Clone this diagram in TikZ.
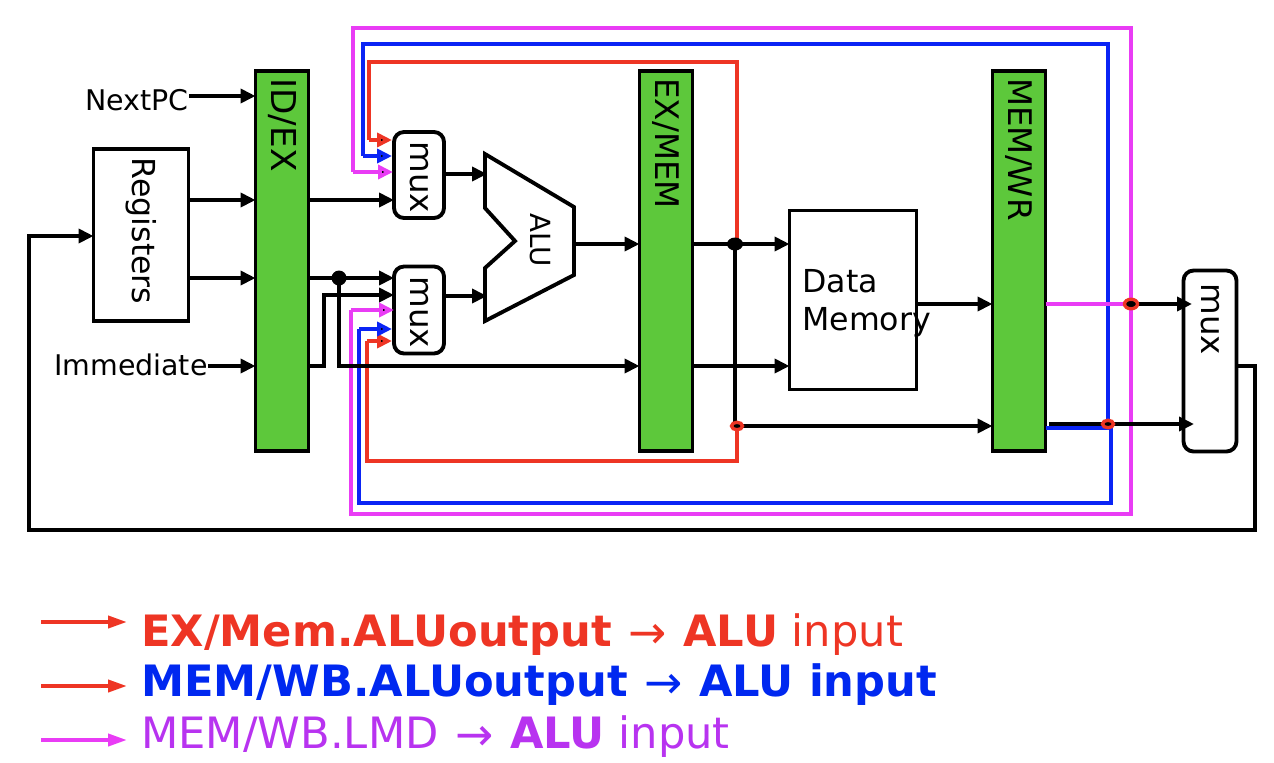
\documentclass[tikz,border=0pt]{standalone}
\usepackage{fontspec}
\setmainfont{DejaVu Sans}
\usetikzlibrary{arrows.meta,shapes.geometric}
\definecolor{reggreen}{HTML}{5DC83B}
\definecolor{fwdred}{HTML}{EE3524}
\definecolor{fwdblue}{HTML}{0A24F5}
\definecolor{fwdpink}{HTML}{E93CF5}
\definecolor{txtblue}{HTML}{0028F0}
\definecolor{txtpurple}{HTML}{B833F0}
\newcommand{\fwdarrow}{\kern1.7pt\raisebox{-1.5pt}{\mdseries\fontsize{26}{26}\selectfont →}\kern1.7pt}
\tikzset{
  wire/.style={line width=2.2pt,->},
  plainwire/.style={line width=2.2pt},
  redwire/.style={line width=2.2pt,draw=fwdred},
  bluewire/.style={line width=2.2pt,draw=fwdblue},
  pinkwire/.style={line width=2.2pt,draw=fwdpink},
  legendwire/.style={line width=2.2pt,-{Triangle[length=0.38cm,width=0.24cm]}},
  pipereg/.style={draw,line width=2.2pt,fill=reggreen,minimum width=1.06cm,minimum height=7.6cm,inner sep=0,outer sep=0},
  vlabel/.style={rotate=-90,anchor=west,inner sep=0,font=\fontsize{18.5}{22}\selectfont},
  muxbox/.style={draw,line width=2.2pt,rounded corners=0.2cm,fill=white,minimum width=1.0cm,inner sep=0,outer sep=0},
  plainbox/.style={draw,line width=2.2pt,inner sep=0,outer sep=0},
  sidelabel/.style={inner sep=0,font=\fontsize{16.2}{19}\selectfont},
  blackdot/.style={ellipse,fill=black,inner sep=0},
  reddot/.style={ellipse,draw=fwdred,fill=black,line width=1.9pt,minimum width=0.22cm,minimum height=0.15cm,inner sep=0},
  legendtxt/.style={anchor=base west,inner sep=0,font=\fontsize{24.6}{28}\selectfont}
}
\begin{document}
\begin{tikzpicture}[x=0.02cm,y=-0.02cm,>={Triangle[length=0.3cm,width=0.28cm]}]
  \useasboundingbox (0,0) rectangle (1274,762);

  % pipeline registers and boxes
  \node[pipereg] (idex) at (282,261) {};
  \node[pipereg] (exmem) at (666,261) {};
  \node[pipereg] (memwr) at (1019,261) {};
  \node[vlabel,font=\fontsize{19.5}{22}\selectfont] (idexl) at (282,78) {ID/EX};
  \node[vlabel] (exmeml) at (666,78) {EX/MEM};
  \node[vlabel] (memwrl) at (1019,78) {MEM/WR};

  \node[plainbox,minimum width=1.9cm,minimum height=3.44cm] (regs) at (141,235) {};
  \node[vlabel,anchor=center,font=\fontsize{18}{22}\selectfont] (regsl) at (141,231) {Registers};
  \node[muxbox,minimum height=1.72cm] (muxa) at (419,175) {};
  \node[vlabel] (muxal) at (419,141) {mux};
  \node[muxbox,minimum height=1.74cm] (muxb) at (419,310) {};
  \node[vlabel] (muxbl) at (419,276) {mux};
  \node[muxbox,minimum width=1.06cm,minimum height=3.62cm] (muxc) at (1210,361) {};
  \node[vlabel] (muxcl) at (1210,283) {mux};
  \node[plainbox,minimum width=2.54cm,minimum height=3.58cm] (dmem) at (853,300) {};
  \node[sidelabel,anchor=west,align=left,font=\fontsize{18}{21.6}\selectfont] (dmeml) at (802,303) {Data\\Memory};

  % ALU outline
  \draw[line width=2.2pt,line join=miter] (485,154) -- (574,207) -- (574,275) -- (485,321)
    -- (485,268) -- (515,241) -- (485,208) -- cycle;
  \node[vlabel,anchor=center,font=\fontsize{15.8}{18}\selectfont] (alul) at (540,240) {ALU};
  \coordinate (alua) at (487,174);
  \coordinate (alub) at (487,296);

  % plain inputs
  \node[sidelabel,anchor=east] (nextpc) at (189,100) {NextPC};
  \node[sidelabel,anchor=east] (immed) at (208,365) {Immediate};

  % junctions
  \coordinate (ja) at (339,278);
  \coordinate (jb) at (735,244);
  \coordinate (jbr) at (737,244);
  \coordinate (jc) at (737,426);
  \coordinate (jd) at (1108,424);
  \coordinate (je) at (1131,304);

  % forwarding wires
  \draw[redwire] (jbr) -- (737,62) -- (369,62) -- (369,140) edge[->] (392,140);
  \draw[redwire] (jc) -- (737,461) -- (367,461) -- (367,341) edge[->] (392,341);
  \draw[bluewire] (jd) -- (1108,44) -- (363,44) -- (363,156) edge[->] (392,156);
  \draw[bluewire] (memwr.east |- 0,428) -- (1111,428) -- (1111,503) -- (359,503) -- (359,329) edge[->] (392,329);
  \draw[pinkwire] (memwr.east |- je) -- (je);
  \draw[pinkwire] (je) -- (1131,28) -- (353,28) -- (353,172) edge[->] (393,172);
  \draw[pinkwire] (je) -- (1131,514) -- (351,514) -- (351,310) edge[->] (394,310);

  % black wires
  \draw[wire] (nextpc.east |- 0,96) -- (idex.west |- 0,96);
  \draw[wire] (regs.east |- 0,200) -- (idex.west |- 0,200);
  \draw[wire] (regs.east |- 0,278) -- (idex.west |- 0,278);
  \draw[wire] (immed.east |- 0,366) -- (idex.west |- 0,366);
  \draw[wire] (idex.east |- 0,200) -- (muxa.west |- 0,200);
  \draw[wire] (idex.east |- ja) -- (muxb.west |- ja);
  \draw[wire] (idex.east |- 0,366) -- (324,366) -- (324,295) -- (muxb.west |- 0,295);
  \draw[wire] (ja) -- (339,366) -- (exmem.west |- 0,366);
  \draw[wire] (muxa.east |- alua) -- (alua);
  \draw[wire] (muxb.east |- alub) -- (alub);
  \draw[wire] (574,244) -- (exmem.west |- 0,244);
  \draw[wire] (exmem.east |- jb) -- (dmem.west |- jb);
  \draw[wire] (exmem.east |- 0,366) -- (dmem.west |- 0,366);
  \draw[plainwire] (jb) -- (735,426);
  \draw[wire] (jc) -- (memwr.west |- jc);
  \draw[wire] (dmem.east |- 0,304) -- (memwr.west |- 0,304);
  \draw[wire] (je) -- (1192,304);
  \draw[wire] (1049,424) -- (1194,424);
  \draw[wire] (muxc.east |- 0,366) -- (1255,366) -- (1255,530) -- (29,530) -- (29,236) -- (regs.west |- 0,236);

  % dots on top of the wires
  \node[blackdot,minimum width=0.3cm,minimum height=0.3cm] (jadot) at (ja) {};
  \node[blackdot,minimum width=0.32cm,minimum height=0.26cm] (jbdot) at (jb) {};
  \node[reddot] (jcdot) at (jc) {};
  \node[reddot] (jddot) at (jd) {};
  \node[reddot,minimum width=0.26cm,minimum height=0.19cm] (jedot) at (je) {};

  % legend
  \coordinate (lga) at (41,622);
  \coordinate (lgb) at (41,686);
  \coordinate (lgc) at (41,740);
  \coordinate (lgae) at (127,622);
  \coordinate (lgbe) at (127,686);
  \coordinate (lgce) at (127,740);
  \draw[legendwire,draw=fwdred,fill=fwdred] (lga) -- (lgae);
  \draw[legendwire,draw=fwdred,fill=fwdred] (lgb) -- (lgbe);
  \draw[legendwire,draw=fwdpink,fill=fwdpink] (lgc) -- (lgce);
  \node[legendtxt,text=fwdred] (txta) at (141,646) {\textbf{EX/Mem.ALUoutput} \fwdarrow{} \textbf{ALU} input};
  \node[legendtxt,text=txtblue] (txtb) at (141,696) {\textbf{MEM/WB.ALUoutput} \fwdarrow{} \textbf{ALU input}};
  \node[legendtxt,text=txtpurple] (txtc) at (141,748) {MEM/WB.LMD \fwdarrow{} \textbf{ALU} input};
\end{tikzpicture}
\end{document}
